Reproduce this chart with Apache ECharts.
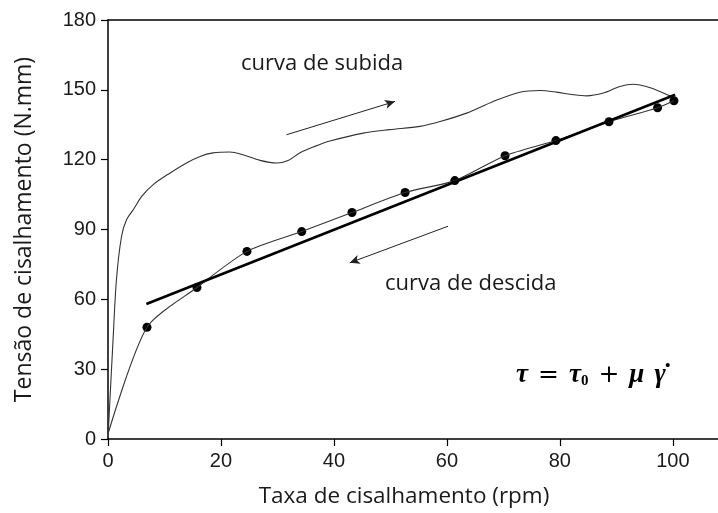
<!DOCTYPE html>
<html>
<head>
<meta charset="utf-8">
<script src="https://cdn.jsdelivr.net/npm/echarts@6/dist/echarts.min.js"></script>
<style>
  html, body { margin: 0; padding: 0; background: #fff; }
  #chart { width: 718px; height: 513px; }
</style>
</head>
<body>
<div id="chart"></div>
<script>
// Shear rate (rpm) vs shear stress (N.mm)
const xTicks = [0, 20, 40, 60, 80, 100];
const yTicks = [0, 30, 60, 90, 120, 150, 180];

// Ascending curve (curva de subida), continuous trace
const subidaX = [0.05, 0.9, 1.5, 2.4, 3.3, 4.5, 6.0, 8.0, 11.0, 13.9, 16.3, 18.6, 21.6, 23.9, 26.9, 29.9, 32.0, 34.0, 36.5, 39.3, 45.2, 49.9, 55.2, 58.8, 63.5, 68.2, 72.9, 76.5, 79.4, 82.4, 84.7, 87.7, 90.6, 93.0, 95.3, 97.7, 99.5, 100.4];
const subidaY = [2.9, 42.9, 68.6, 87.1, 94.3, 98.6, 104.3, 109.3, 114.3, 118.6, 121.4, 122.9, 123.3, 122.1, 119.7, 118.6, 119.8, 123.0, 125.6, 128.0, 131.4, 132.9, 134.3, 136.4, 140.0, 145.0, 149.0, 149.7, 149.0, 147.9, 147.4, 148.6, 151.4, 152.4, 151.4, 149.3, 147.4, 146.9];

// Descending curve (curva de descida): measured points
const descidaX = [6.9, 15.75, 24.6, 34.3, 43.2, 52.6, 61.4, 70.3, 79.3, 88.7, 97.3, 100.2];
const descidaY = [48.0, 65.1, 80.6, 89.1, 97.3, 105.9, 111.0, 121.7, 128.2, 136.3, 142.3, 145.3];
// Descending trace continues down to the origin
const descidaStart = [0.1, 3.0];

// Bingham fit: tau = tau0 + mu * gamma
const tau0 = 51.5;
const mu = 0.96;
const fitRange = [6.8, 100.4];

// Direction arrows [from, to]
const arrowSubida = [[31.6, 130.7], [50.8, 145.0]];
const arrowDescida = [[60.2, 91.4], [42.8, 75.7]];

const subida = subidaX.map((x, i) => [x, subidaY[i]]);
const descidaPts = descidaX.map((x, i) => [x, descidaY[i]]);
const descidaLine = [descidaStart].concat(descidaPts);
const fitLine = fitRange.map(x => [x, tau0 + mu * x]);

const chart = echarts.init(document.getElementById('chart'));
const textColor = '#1a1a1a';
const tickFont = { fontFamily: 'Liberation Sans', fontSize: 20, color: textColor };
const labelFont = '22px "Open Sans"';

chart.setOption({
  animation: false,
  backgroundColor: '#fff',
  grid: { left: 108, top: 20, right: 0, bottom: 73, containLabel: false },
  xAxis: [{
    type: 'value', min: 0, max: 108,
    name: 'Taxa de cisalhamento (rpm)', nameLocation: 'middle', nameGap: 46,
    nameTextStyle: { fontFamily: 'Open Sans', fontSize: 22.5, color: textColor, padding: [0, 18, 0, 0] },
    axisLine: { show: true, lineStyle: { color: '#000', width: 1.5 } },
    axisTick: { show: true, length: 7, inside: false, customValues: xTicks, lineStyle: { color: '#000', width: 1.2 } },
    axisLabel: Object.assign({ customValues: xTicks, margin: 12 }, tickFont),
    splitLine: { show: false }
  }, {
    type: 'value', min: 0, max: 108, position: 'top',
    axisLine: { show: true, lineStyle: { color: '#000', width: 1.5 } },
    axisTick: { show: false }, axisLabel: { show: false }, splitLine: { show: false }
  }],
  yAxis: {
    type: 'value', min: 0, max: 180, interval: 30,
    name: 'Tensão de cisalhamento (N.mm)', nameLocation: 'middle', nameGap: 72,
    nameTextStyle: { fontFamily: 'Open Sans', fontSize: 23, color: textColor },
    axisLine: { show: true, lineStyle: { color: '#000', width: 1.5 } },
    axisTick: { show: true, length: 7, lineStyle: { color: '#000', width: 1.2 } },
    axisLabel: Object.assign({ margin: 12 }, tickFont),
    splitLine: { show: false }
  },
  series: [
    {
      name: 'curva de subida', type: 'line', data: subida, smooth: 0.3,
      showSymbol: false, lineStyle: { color: '#333', width: 1.1 },
      markLine: {
        silent: true, symbol: ['none', 'arrow'], symbolSize: [7, 10],
        label: { show: false },
        lineStyle: { color: '#222', width: 1, type: 'solid' },
        data: [
          [{ coord: arrowSubida[0] }, { coord: arrowSubida[1] }],
          [{ coord: arrowDescida[0] }, { coord: arrowDescida[1] }]
        ]
      }
    },
    {
      name: 'curva de descida', type: 'line', data: descidaLine, smooth: 0.25,
      showSymbol: false, lineStyle: { color: '#333', width: 1.1 }
    },
    {
      name: 'pontos', type: 'scatter', data: descidaPts,
      symbol: 'circle', symbolSize: 9, itemStyle: { color: '#000', opacity: 1 }
    },
    {
      name: 'ajuste', type: 'line', data: fitLine, showSymbol: false,
      lineStyle: { color: '#000', width: 2.6 }
    }
  ],
  graphic: [
    { type: 'text', left: 241, top: 53, style: { text: 'curva de subida', font: labelFont, fill: textColor } },
    { type: 'text', left: 385, top: 273, style: { text: 'curva de descida', font: labelFont, fill: textColor } },
    {
      type: 'text', left: 516, top: 362,
      style: {
        text: '{t|τ}{o|=}{t|τ}{s|0}{o|+}{t|μ}{g|γ̇}',
        rich: {
          t: { fontFamily: 'Liberation Serif', fontSize: 27, fontWeight: 'bold', fontStyle: 'italic', fill: '#000' },
          g: { fontFamily: 'Liberation Serif', fontSize: 27, fontWeight: 'bold', fontStyle: 'italic', fill: '#000', padding: [0, 0, 0, 10] },
          o: { fontFamily: 'DejaVu Serif', fontSize: 25, fill: '#000', padding: [0, 10, 0, 10] },
          s: { fontFamily: 'Liberation Serif', fontSize: 15, fontWeight: 'bold', fill: '#000', verticalAlign: 'bottom', padding: [12, 0, 0, 0] }
        }
      }
    }
  ]
});
</script>
</body>
</html>
